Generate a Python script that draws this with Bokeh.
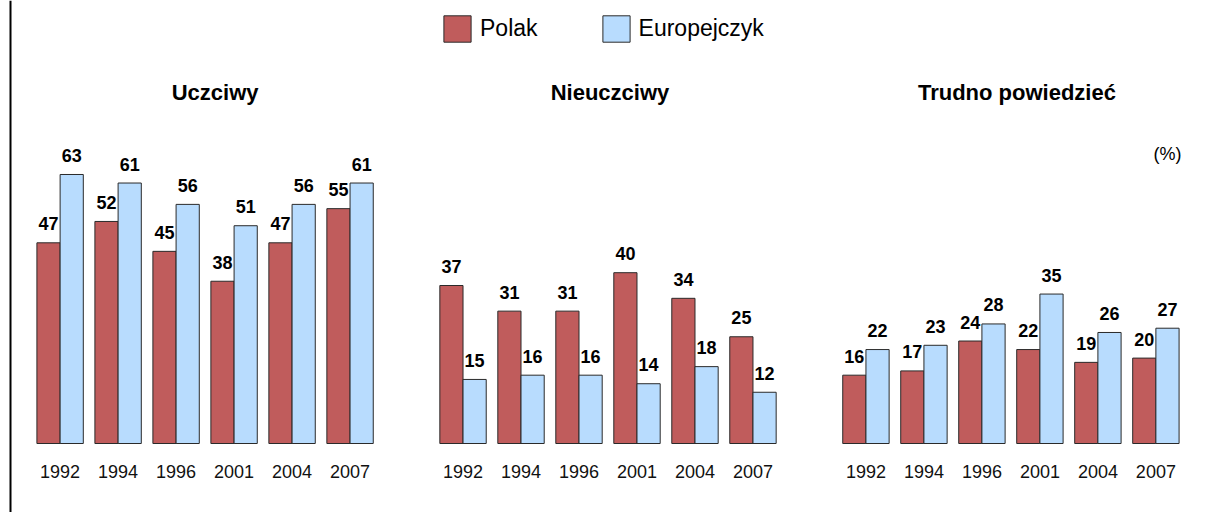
from bokeh.plotting import figure
from bokeh.models import FactorRange, Range1d, ColumnDataSource, Label, Span, Legend, LegendItem
from bokeh.transform import dodge
from bokeh.core.properties import value
from bokeh.embed import file_html
from bokeh.resources import INLINE

panels = ["Uczciwy", "Nieuczciwy", "Trudno powiedzieć"]
years = ["1992", "1994", "1996", "2001", "2004", "2007"]
polak = {
    "Uczciwy": [47, 52, 45, 38, 47, 55],
    "Nieuczciwy": [37, 31, 31, 40, 34, 25],
    "Trudno powiedzieć": [16, 17, 24, 22, 19, 20],
}
europejczyk = {
    "Uczciwy": [63, 61, 56, 51, 56, 61],
    "Nieuczciwy": [15, 16, 16, 14, 18, 12],
    "Trudno powiedzieć": [22, 23, 28, 35, 26, 27],
}
series_names = ["Polak", "Europejczyk"]
unit_label = "(%)"

RED = "#C05C5C"
BLUE = "#B8DCFE"
FONT = "Liberation Sans"

factors = [(pn, y) for pn in panels for y in years]
pl = [v for pn in panels for v in polak[pn]]
eu = [v for pn in panels for v in europejczyk[pn]]
src = ColumnDataSource(dict(
    x=factors, pl=pl, eu=eu,
    pl_t=[str(v) for v in pl], eu_t=[str(v) for v in eu],
    yr=[f[1] for f in factors], zero=[0] * len(factors),
))

W, H = 1207, 512
LEFT = 8
k = 4.27
base = 443
p = figure(
    width=W, height=H, output_backend="svg", toolbar_location=None,
    x_range=FactorRange(*factors, group_padding=0.948, range_padding=0.39,
                        range_padding_units="absolute"),
    y_range=Range1d(-(H - base) / k, base / k),
    min_border=0, min_border_left=LEFT, x_axis_location=None, y_axis_location=None,
)
p.outline_line_color = None
p.grid.visible = False
p.background_fill_color = "white"

r1 = p.vbar(x=dodge("x", -0.2, range=p.x_range), top="pl", width=0.4, source=src,
            fill_color=RED, line_color="#2a2a2a", line_width=1)
r2 = p.vbar(x=dodge("x", 0.2, range=p.x_range), top="eu", width=0.4, source=src,
            fill_color=BLUE, line_color="#2a2a2a", line_width=1)

p.text(x=dodge("x", -0.2, range=p.x_range), y="pl", text="pl_t", source=src,
       y_offset=-19, text_align="center", text_baseline="alphabetic",
       text_font=value(FONT), text_font_style="bold", text_font_size="18px",
       text_color="black")
p.text(x=dodge("x", 0.2, range=p.x_range), y="eu", text="eu_t", source=src,
       y_offset=-19, text_align="center", text_baseline="alphabetic",
       text_font=value(FONT), text_font_style="bold", text_font_size="18px",
       text_color="black")

# year labels (category axis labels)
p.text(x="x", y="zero", text="yr", source=src, y_offset=28,
       text_align="center", text_baseline="alphabetic",
       text_font=value(FONT), text_font_size="18px", text_color="#111111")

# panel titles
tsrc = ColumnDataSource(dict(x=panels, y=[(base - 92) / k] * 3, t=panels,
                             dx=[10, 2, 6]))
p.text(x="x", y="y", text="t", source=tsrc, x_offset="dx", text_align="center",
       text_baseline="alphabetic", text_font=value(FONT),
       text_font_style="bold", text_font_size="22px", text_color="black")

p.add_layout(Label(x=1167 - LEFT, y=H - 153, x_units="screen", y_units="screen",
                   text=unit_label, text_align="center", text_baseline="middle",
                   text_font=FONT, text_font_size="18px", text_color="black"))

p.add_layout(Span(location=10 - LEFT, location_units="screen", dimension="height",
                  line_color="black", line_width=2))

legend = Legend(items=[LegendItem(label=series_names[0], renderers=[r1]),
                       LegendItem(label=series_names[1], renderers=[r2])],
                location=(440 - LEFT, H - 45), orientation="horizontal",
                glyph_width=34, glyph_height=33, label_standoff=6, spacing=61,
                padding=0, margin=0, border_line_color=None,
                background_fill_alpha=0, label_text_font=FONT,
                label_text_font_size="23px", label_text_color="black")
p.add_layout(legend, "center")

open("out.html", "w").write(file_html(p, INLINE))
